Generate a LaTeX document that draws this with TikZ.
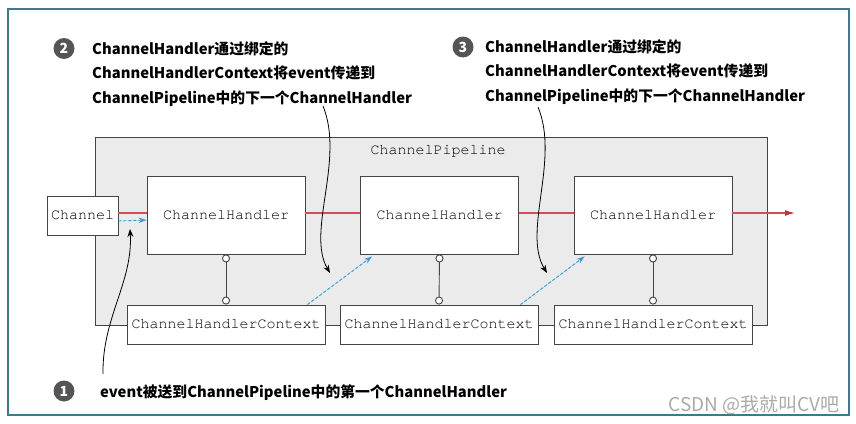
\documentclass[tikz,border=0pt]{standalone}
\usepackage{fontspec}
\setmonofont{TeX Gyre Cursor}
\newfontfamily\cjk{Noto Sans CJK SC}
\usetikzlibrary{arrows.meta}
\definecolor{frameC}{HTML}{3D7A8A}
\definecolor{pipeFill}{HTML}{EBEBEB}
\definecolor{boxC}{HTML}{444444}
\definecolor{redC}{HTML}{D84A58}
\definecolor{redTip}{HTML}{C8303F}
\definecolor{blueC}{HTML}{3A9BD5}
\definecolor{numC}{HTML}{555555}
\definecolor{wmC}{HTML}{AAAAAA}
\begin{document}
\begin{tikzpicture}[x=1pt,y=-1pt,
  pipe/.style={draw=boxC, fill=pipeFill, line width=1pt, inner sep=0pt},
  box/.style={draw=boxC, fill=white, line width=0.9pt, inner sep=0pt,
    font=\ttfamily\fontsize{15}{15}\selectfont},
  handler/.style={box, minimum width=158pt, minimum height=78pt},
  ctx/.style={box, minimum width=198pt, minimum height=39pt},
  mono/.style={font=\ttfamily\fontsize{15}{15}\selectfont, inner sep=0pt},
  lbl/.style={font=\cjk\bfseries\fontsize{14.8}{24.5}\selectfont, align=left, inner sep=0pt},
  numc/.style={circle, fill=numC, text=white, minimum size=21pt, inner sep=0pt,
    font=\cjk\bfseries\fontsize{14}{14}\selectfont},
  redline/.style={draw=redC, line width=1.15pt},
  bluearrow/.style={draw=blueC, fill=blueC, line width=0.9pt, dash pattern=on 3pt off 2pt,
    -{Stealth[length=8pt,width=5.5pt]}},
  lolli/.style={draw=boxC, line width=0.9pt,
    {Circle[open,fill=white,length=8pt,width=8pt]}-{Circle[open,fill=white,length=8pt,width=8pt]}},
  curv/.style={draw=black, line width=0.8pt, -{Stealth[length=8pt,width=6pt]}},
  wm/.style={font=\cjk\fontsize{19}{19}\selectfont, text=wmC, inner sep=0pt}
]
\useasboundingbox (0,0) rectangle (856,423);
\draw[frameC, line width=1.3pt] (8,9) rectangle (849,415);

% pipeline
\node[pipe, minimum width=672pt, minimum height=188pt] (pl) at (431,231) {};
\node[mono] (pll) at (438,151) {ChannelPipeline};

% boxes
\node[box, minimum width=71pt, minimum height=39pt] (ch) at (82.5,215.5) {Channel};
\node[handler] (h1) at (226,215) {ChannelHandler};
\node[handler] (h2) at (439.5,215) {ChannelHandler};
\node[handler] (h3) at (653,215) {ChannelHandler};
\node[ctx] (c1) at (226,324.5) {ChannelHandlerContext};
\node[ctx] (c2) at (439,324.5) {ChannelHandlerContext};
\node[ctx] (c3) at (653,324.5) {ChannelHandlerContext};

% red flow
\coordinate (redend) at (795,213);
\draw[redline] ([yshift=2.5pt]ch.east) -- ([yshift=2pt]h1.west);
\draw[redline] ([yshift=2pt]h1.east) -- ([yshift=2pt]h2.west);
\draw[redline] ([yshift=2pt]h2.east) -- ([yshift=2pt]h3.west);
\draw[redline, -{Latex[length=10pt,width=6pt,color=redTip]}] ([yshift=2pt]h3.east) -- (redend);

% lollipops
\draw[lolli] (h1.south) -- (c1.north);
\draw[lolli] (h2.south) -- (c2.north);
\draw[lolli] (h3.south) -- (c3.north);

% blue dashed
\draw[bluearrow] ([yshift=-5.5pt]ch.east) -- ([yshift=-5pt]h1.west);
\draw[bluearrow] ([xshift=-18pt]c1.north east) -- ([xshift=12pt,yshift=-2pt]h2.south west);
\draw[bluearrow] ([xshift=-18pt]c2.north east) -- ([xshift=11pt,yshift=-2pt]h3.south west);

% labels
\node[numc] (n2) at (64,48.5) {2};
\node[lbl, anchor=north west] (t2) at (92,41) {ChannelHandler通过绑定的\\ChannelHandlerContext将event传递到\\ChannelPipeline中的下一个ChannelHandler};
\node[numc] (n3) at (463,47) {3};
\node[lbl, anchor=north west] (t3) at (485,39) {ChannelHandler通过绑定的\\ChannelHandlerContext将event传递到\\ChannelPipeline中的下一个ChannelHandler};
\node[numc] (n1) at (64,391) {1};
\node[lbl, anchor=base west] (t1) at (100,397) {event被送到ChannelPipeline中的第一个ChannelHandler};

% curved arrows
\coordinate (a2s) at (323,106);
\coordinate (a2e) at (330,273);
\draw[curv] (a2s) .. controls (345,160) and (306,232) .. (a2e);
\coordinate (a3s) at (538,107);
\coordinate (a3e) at (547,273);
\draw[curv] (a3s) .. controls (560,160) and (522,232) .. (a3e);
\coordinate (a1s) at (103,374);
\coordinate (a1e) at (130,229);
\draw[curv] (a1s) .. controls (102,318) and (133,282) .. (a1e);

% watermark
\node[wm, anchor=base east] (wmk) at (840,411) {CSDN @我就叫CV吧};
\end{tikzpicture}
\end{document}
